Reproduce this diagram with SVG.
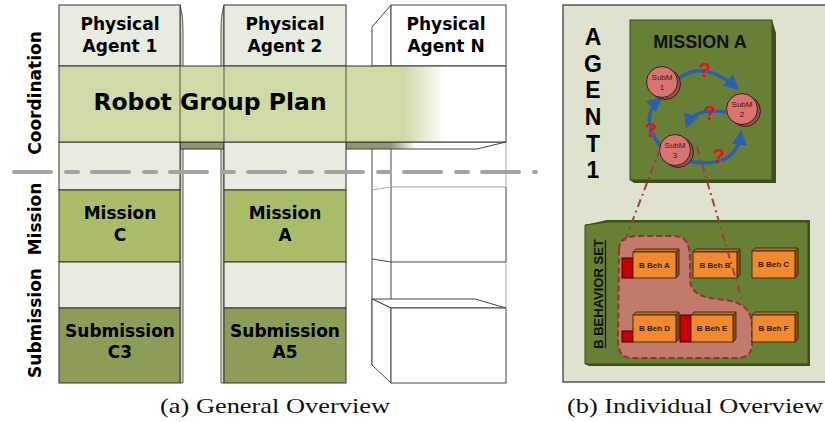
<svg xmlns="http://www.w3.org/2000/svg" width="825" height="422" viewBox="0 0 825 422">
<defs>
<style>
.cell{stroke:#333;stroke-width:1}
.light{fill:#e8ebdf}
.plan{fill:#cfdba6}
.mis{fill:#a9bd68}
.sub{fill:#8b9d57}
.lbl{font-family:"DejaVu Sans",Verdana,sans-serif;font-weight:bold;font-size:17px;fill:#000;text-anchor:middle}
.wire{fill:#fff;stroke:#444;stroke-width:1}
.wirel{fill:none;stroke:#aaa;stroke-width:1}
.cap{font-family:"Liberation Serif","DejaVu Serif",serif;font-size:22px;fill:#111}
.agent{font-family:"Liberation Sans",Arial,sans-serif;font-weight:bold;font-size:23px;fill:#000;text-anchor:middle}
.circ{fill:#d9746e;stroke:#3a2020;stroke-width:1}
.circs{fill:#93524d;stroke:#3a2020;stroke-width:1}
.subm{font-family:"Liberation Sans",Arial,sans-serif;font-size:8px;fill:#3a1a1a;text-anchor:middle}
.arr{fill:none;stroke:#2d5fb0;stroke-width:3.5}
.q{font-family:"Liberation Sans",Arial,sans-serif;font-weight:bold;font-size:21px;fill:#e8141c;text-anchor:middle}
.dd{fill:none;stroke:#a0403a;stroke-width:2;stroke-dasharray:8 4 2 4}
.box{fill:#f0892f;stroke:#4a2a10;stroke-width:1}
.boxt{fill:#c66f22;stroke:#4a2a10;stroke-width:1}
.boxs{fill:#8f521a;stroke:#4a2a10;stroke-width:1}
.red{fill:#c80000;stroke:#400;stroke-width:1}
.bt{font-family:"Liberation Sans",Arial,sans-serif;font-weight:bold;font-size:8px;fill:#3a2008;text-anchor:middle}
</style>
<linearGradient id="planG" gradientUnits="userSpaceOnUse" x1="405" y1="0" x2="445" y2="0">
<stop offset="0" stop-color="#cfdba6"/><stop offset="1" stop-color="#ffffff"/>
</linearGradient>
<linearGradient id="stripG" gradientUnits="userSpaceOnUse" x1="390" y1="0" x2="416" y2="0">
<stop offset="0" stop-color="#8d9873"/><stop offset="1" stop-color="#ffffff"/>
</linearGradient>
<marker id="ah" viewBox="0 0 10 10" refX="8" refY="5" markerWidth="15" markerHeight="15" markerUnits="userSpaceOnUse" orient="auto">
<path d="M0,0 L10,5 L0,10 z" fill="#2d5fb0"/>
</marker>
</defs>

<!-- (a) General Overview -->
<g id="col-n">
<polygon class="wire" points="372,27 391,5 391,66 372,66"/>
<rect class="wire" x="391" y="5" width="115" height="61"/>
<line class="wire" x1="372" y1="149" x2="372" y2="365"/>
<line class="wire" x1="391" y1="142" x2="391" y2="383"/>
<line class="wirel" x1="506" y1="142" x2="506" y2="187"/>
<line class="wirel" x1="391" y1="187" x2="506" y2="187"/>
<line class="wirel" x1="372" y1="190" x2="391" y2="187"/>
<line class="wire" x1="506" y1="187" x2="506" y2="262"/>
<line class="wire" x1="391" y1="262" x2="506" y2="262"/>
<line class="wire" x1="372" y1="259" x2="391" y2="262"/>
<line class="wirel" x1="506" y1="262" x2="506" y2="308"/>
<polygon class="wire" points="372,299 475,299 506,308 391,308"/>
<polygon class="wire" points="372,299 391,308 391,383 372,365"/>
<rect class="wire" x="391" y="308" width="115" height="75"/>
<text class="lbl" x="446" y="30">Physical</text>
<text class="lbl" x="446" y="52">Agent N</text>
</g>

<g id="between">
<path d="M180,5 Q183,15 183,30 L183,383 L180,383 Z" fill="#d6dacb" stroke="#333" stroke-width="0.8"/>
<path d="M224,5 Q221,15 221,30 L221,383 L224,383 Z" fill="#d6dacb" stroke="#333" stroke-width="0.8"/>
<rect x="180" y="142" width="44" height="7" fill="#8d9873" stroke="#333" stroke-width="1"/>
<polygon points="346,142 506,142 477,149 346,149" fill="url(#stripG)" stroke="#444" stroke-width="1"/>
</g>

<g id="col-1">
<rect class="cell light" x="59" y="5" width="121" height="61"/>
<rect class="cell light" x="59" y="142" width="121" height="48"/>
<rect class="cell mis" x="59" y="190" width="121" height="72"/>
<rect class="cell light" x="59" y="262" width="121" height="46"/>
<rect class="cell sub" x="59" y="308" width="121" height="75"/>
<text class="lbl" x="120" y="30">Physical</text>
<text class="lbl" x="120" y="52">Agent 1</text>
<text class="lbl" x="120" y="219">Mission</text>
<text class="lbl" x="120" y="241">C</text>
<text class="lbl" x="120" y="337">Submission</text>
<text class="lbl" x="120" y="358">C3</text>
</g>

<g id="col-2">
<rect class="cell light" x="224" y="5" width="122" height="61"/>
<rect class="cell light" x="224" y="142" width="122" height="48"/>
<rect class="cell mis" x="224" y="190" width="122" height="72"/>
<rect class="cell light" x="224" y="262" width="122" height="46"/>
<rect class="cell sub" x="224" y="308" width="122" height="75"/>
<text class="lbl" x="285" y="30">Physical</text>
<text class="lbl" x="285" y="52">Agent 2</text>
<text class="lbl" x="285" y="219">Mission</text>
<text class="lbl" x="285" y="241">A</text>
<text class="lbl" x="285" y="337">Submission</text>
<text class="lbl" x="285" y="358">A5</text>
</g>

<g id="robot-group-plan">
<rect x="59" y="66" width="447" height="76" fill="url(#planG)" stroke="#333" stroke-width="1"/>
<line x1="180" y1="66" x2="180" y2="142" stroke="#333" stroke-width="0.8"/>
<line x1="224" y1="66" x2="224" y2="142" stroke="#333" stroke-width="0.8"/>
<line x1="346" y1="66" x2="346" y2="142" stroke="#333" stroke-width="0.8"/>
<text x="210" y="110" font-family="DejaVu Sans,Verdana,sans-serif" font-weight="bold" font-size="23.5" text-anchor="middle" fill="#000">Robot Group Plan</text>
</g>

<g id="layer-labels">
<text class="lbl" transform="translate(41,93) rotate(-90)" x="0" y="0">Coordination</text>
<text class="lbl" transform="translate(41,219) rotate(-90)" x="0" y="0">Mission</text>
<text class="lbl" transform="translate(41,323) rotate(-90)" x="0" y="0">Submission</text>
</g>

<g id="separator">
<line x1="14" y1="172" x2="536" y2="172" stroke="#a3a3a3" stroke-width="4" stroke-linecap="round" stroke-dasharray="37 15 12 14"/>
</g>

<text class="cap" x="160" y="413" textLength="230" lengthAdjust="spacingAndGlyphs">(a) General Overview</text>

<!-- (b) Individual Overview -->
<g id="panel-b">
<rect x="563" y="5" width="275" height="377" fill="#dfe2cf" stroke="#555" stroke-width="1.5"/>
<text class="agent" x="593" y="45">A</text>
<text class="agent" x="593" y="72">G</text>
<text class="agent" x="593" y="98">E</text>
<text class="agent" x="593" y="125">N</text>
<text class="agent" x="593" y="152">T</text>
<text class="agent" x="593" y="178">1</text>
</g>

<g id="mission-a">
<polygon points="772,20 776,33 776,183 634,183 630,180 772,180" fill="#3e5020"/>
<rect x="630" y="20" width="142" height="160" fill="#687f36" stroke="#3a4a1c" stroke-width="1"/>
<text x="700" y="48" font-family="Liberation Sans,Arial,sans-serif" font-weight="bold" font-size="18" text-anchor="middle" fill="#111">MISSION A</text>
</g>

<g id="connectors">
<path class="arr" d="M677,80 Q702,58 737,88" marker-end="url(#ah)"/>
<path class="arr" d="M726,112 Q694,107 687,126" marker-end="url(#ah)"/>
<path class="arr" d="M683,160 Q736,172 741,133" marker-end="url(#ah)"/>
<path class="arr" d="M661,147 Q638,118 660,99" marker-end="url(#ah)"/>
</g>

<g id="subm-1">
<circle class="circs" cx="665" cy="84" r="15.5"/>
<circle class="circ" cx="662" cy="82" r="15.5"/>
<text class="subm" x="662" y="80">SubM</text>
<text class="subm" x="662" y="90">1</text>
</g>
<g id="subm-2">
<circle class="circs" cx="745" cy="111" r="15.5"/>
<circle class="circ" cx="742" cy="109" r="15.5"/>
<text class="subm" x="742" y="107">SubM</text>
<text class="subm" x="742" y="117">2</text>
</g>
<g id="subm-3">
<circle class="circs" cx="678" cy="152" r="15.5"/>
<circle class="circ" cx="675" cy="150" r="15.5"/>
<text class="subm" x="675" y="148">SubM</text>
<text class="subm" x="675" y="158">3</text>
</g>

<g id="questions">
<text class="q" x="705" y="77">?</text>
<text class="q" x="710" y="120">?</text>
<text class="q" x="651" y="137">?</text>
<text class="q" x="719" y="163">?</text>
</g>

<g id="behavior-set">
<polygon points="585,225 607,220 810,220 810,366 589,366 585,364" fill="#3e5020"/>
<polygon points="585,225 607,222 808,222 808,364 585,364" fill="#687f36" stroke="#3a4a1c" stroke-width="1"/>
<text transform="translate(603,294) rotate(-90)" x="0" y="0" font-family="Liberation Sans,Arial,sans-serif" font-weight="bold" font-size="13" text-anchor="middle" fill="#111">B BEHAVIOR SET</text>
<line x1="605.5" y1="240" x2="605.5" y2="348" stroke="#111" stroke-width="1.2"/>
<path d="M619,250 C619,239 627,236 640,236 L674,236 C688,236 690,247 690,262 L690,279 C690,294 703,298 724,300 C745,302 753,312 752,330 L752,345 C752,355 745,358 735,358 L632,358 C622,358 618,352 618,340 Z" fill="#c27a6a" stroke="#9a3030" stroke-width="2" stroke-dasharray="6 3"/>
</g>

<g id="beh-a">
<rect class="red" x="622" y="258" width="11" height="20"/>
<polygon class="boxt" points="633,252 636,249 679,249 676,252"/>
<polygon class="boxs" points="676,252 679,249 679,275 676,278"/>
<rect class="box" x="633" y="252" width="43" height="26"/>
<text class="bt" x="654.5" y="268">B Beh A</text>
</g>
<g id="beh-b">
<polygon class="boxt" points="693,252 696,249 740,249 737,252"/>
<polygon class="boxs" points="737,252 740,249 740,275 737,278"/>
<rect class="box" x="693" y="252" width="44" height="26"/>
<text class="bt" x="715" y="268">B Beh B</text>
</g>
<g id="beh-c">
<polygon class="boxt" points="752,251 755,248 798,248 795,251"/>
<polygon class="boxs" points="795,251 798,248 798,275 795,278"/>
<rect class="box" x="752" y="251" width="43" height="27"/>
<text class="bt" x="773.5" y="267">B Beh C</text>
</g>
<g id="beh-d">
<rect class="red" x="622" y="331" width="11" height="11"/>
<polygon class="boxt" points="633,315 636,312 679,312 676,315"/>
<polygon class="boxs" points="676,315 679,312 679,339 676,342"/>
<rect class="box" x="633" y="315" width="43" height="27"/>
<text class="bt" x="654.5" y="331">B Beh D</text>
</g>
<g id="beh-e">
<rect class="red" x="680" y="315" width="11" height="27"/>
<polygon class="boxt" points="691,315 694,312 736,312 733,315"/>
<polygon class="boxs" points="733,315 736,312 736,339 733,342"/>
<rect class="box" x="691" y="315" width="42" height="27"/>
<text class="bt" x="712" y="331">B Beh E</text>
</g>
<g id="beh-f">
<polygon class="boxt" points="752,315 755,312 798,312 795,315"/>
<polygon class="boxs" points="795,315 798,312 798,339 795,342"/>
<rect class="box" x="752" y="315" width="43" height="27"/>
<text class="bt" x="773.5" y="331">B Beh F</text>
</g>

<g id="zoom-lines">
<line class="dd" x1="660" y1="149" x2="624" y2="243"/>
<line class="dd" x1="697" y1="147" x2="742" y2="300"/>
</g>

<text class="cap" x="567" y="413" textLength="256" lengthAdjust="spacingAndGlyphs">(b) Individual Overview</text>
</svg>
